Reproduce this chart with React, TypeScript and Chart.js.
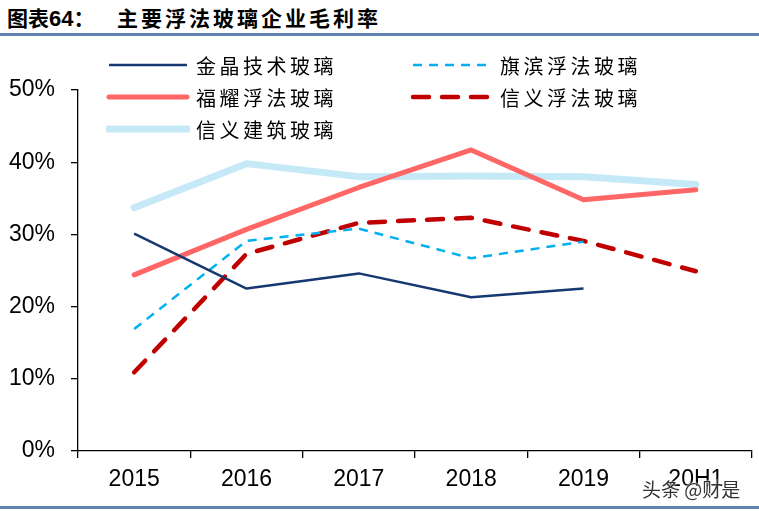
import { useEffect, useRef } from 'react';
import { Chart, registerables } from 'chart.js';

Chart.register(...registerables);

const categories = ['2015', '2016', '2017', '2018', '2019', '20H1'];
const jinjing = [30.1, 22.5, 24.6, 21.3, 22.5, null];
const qibin = [16.9, 29.1, 30.8, 26.7, 29.0, null];
const fuyao = [24.4, 30.7, 36.5, 41.7, 34.8, 36.2];
const xinyiFloat = [10.9, 27.3, 31.6, 32.3, 29.1, 24.9];
const xinyiBuilding = [33.7, 39.8, 38.0, 38.1, 38.0, 36.9];
const yMin = 0;
const yMax = 50;
const yStep = 10;

const series = [
  { label: '金晶技术玻璃', data: jinjing, color: '#14386f', width: 2.5, dash: [] as number[], cap: 'butt' },
  { label: '旗滨浮法玻璃', data: qibin, color: '#00b0f0', width: 2.5, dash: [9, 7], cap: 'butt' },
  { label: '福耀浮法玻璃', data: fuyao, color: '#ff6666', width: 5, dash: [] as number[], cap: 'round' },
  { label: '信义浮法玻璃', data: xinyiFloat, color: '#c00000', width: 4.5, dash: [16, 13], cap: 'round' },
  { label: '信义建筑玻璃', data: xinyiBuilding, color: '#c6e9f8', width: 7, dash: [] as number[], cap: 'round' },
];

// legend grid: two columns, row-major like the original
const legendSlots = [
  { left: 106, top: 65 },
  { left: 410, top: 65 },
  { left: 106, top: 97 },
  { left: 410, top: 97 },
  { left: 106, top: 129 },
];

const axisFont = { family: '"Liberation Sans", Arial, sans-serif', size: 23 };

function LegendItem({ s, left, top }: { s: typeof series[number]; left: number; top: number }) {
  const dash = s.dash.length ? s.dash.join(' ') : undefined;
  return (
    <div style={{ position: 'absolute', left, top: top - 14, height: 28, display: 'flex', alignItems: 'center' }}>
      <svg width={84} height={14}>
        <line
          x1={3}
          y1={7}
          x2={81}
          y2={7}
          stroke={s.color}
          strokeWidth={s.width}
          strokeDasharray={dash}
          strokeLinecap={s.cap as any}
        />
      </svg>
      <span
        style={{
          marginLeft: 6,
          fontFamily: '"Noto Sans CJK SC", sans-serif',
          fontSize: 20,
          letterSpacing: 3.5,
          color: '#000',
          whiteSpace: 'nowrap',
        }}
      >
        {s.label}
      </span>
    </div>
  );
}

export default function App() {
  const canvasRef = useRef<HTMLCanvasElement>(null);
  const chartRef = useRef<Chart | null>(null);

  useEffect(() => {
    if (!canvasRef.current) return;
    if (chartRef.current) chartRef.current.destroy();

    chartRef.current = new Chart(canvasRef.current, {
      type: 'line',
      data: {
        labels: categories,
        datasets: series.map((s) => ({
          label: s.label,
          data: s.data,
          borderColor: s.color,
          backgroundColor: s.color,
          borderWidth: s.width,
          borderDash: s.dash,
          borderCapStyle: s.cap as CanvasLineCap,
          borderJoinStyle: 'round' as CanvasLineJoin,
          pointRadius: 0,
          pointHoverRadius: 0,
          tension: 0,
          spanGaps: false,
        })),
      },
      options: {
        animation: false,
        responsive: true,
        maintainAspectRatio: false,
        layout: { padding: { left: 0, right: 7, top: 50, bottom: 10 } },
        plugins: {
          legend: { display: false },
          title: { display: false },
          tooltip: { enabled: false },
        },
        scales: {
          x: {
            type: 'category',
            offset: true,
            grid: {
              offset: true,
              drawOnChartArea: false,
              drawTicks: true,
              tickLength: 7,
              color: '#000',
              lineWidth: 1.3,
            },
            border: { color: '#000', width: 1.3 },
            ticks: { color: '#000', font: axisFont, padding: 8, maxRotation: 0 },
            afterFit: (scale: any) => {
              scale.height = 45;
            },
          },
          y: {
            min: yMin,
            max: yMax,
            grid: {
              drawOnChartArea: false,
              drawTicks: true,
              tickLength: 7,
              color: '#000',
              lineWidth: 1.3,
            },
            border: { color: '#000', width: 1.3 },
            ticks: {
              stepSize: yStep,
              color: '#000',
              font: axisFont,
              padding: 16,
              callback: (v: any) => v + '%',
            },
            afterFit: (scale: any) => {
              scale.width = 78;
            },
          },
        },
      },
    });

    return () => {
      if (chartRef.current) {
        chartRef.current.destroy();
        chartRef.current = null;
      }
    };
  }, []);

  return (
    <div style={{ position: 'fixed', left: 0, top: 0, width: 759, height: 511, background: '#fff', overflow: 'hidden' }}>
      <div
        style={{
          position: 'absolute',
          left: 7,
          top: 4,
          fontFamily: '"Noto Sans CJK SC", sans-serif',
          fontWeight: 700,
          fontSize: 21,
          lineHeight: '26px',
          color: '#000',
          whiteSpace: 'nowrap',
        }}
      >
        <span>图表</span>
        <span style={{ fontFamily: '"Liberation Sans", Arial, sans-serif', fontSize: 22 }}>64</span>
        <span>：</span>
        <span style={{ position: 'absolute', left: 110, letterSpacing: 3 }}>主要浮法玻璃企业毛利率</span>
      </div>
      <div style={{ position: 'absolute', left: 0, top: 33, width: 759, height: 3, background: '#5f82b0' }} />

      <div style={{ position: 'absolute', left: 0, top: 40, width: 759, height: 466 }}>
        <canvas ref={canvasRef} />
      </div>

      {series.map((s, i) => (
        <LegendItem key={s.label} s={s} left={legendSlots[i].left} top={legendSlots[i].top} />
      ))}

      <div
        style={{
          position: 'absolute',
          left: 642,
          top: 475,
          fontFamily: '"Noto Sans CJK SC", sans-serif',
          fontSize: 19,
          color: '#333',
          textShadow: '0 0 2px #fff, 0 0 2px #fff',
          whiteSpace: 'nowrap',
        }}
      >
        头条 @财是
      </div>
      <div style={{ position: 'absolute', left: 0, top: 506, width: 759, height: 3, background: '#5f82b0' }} />
    </div>
  );
}
